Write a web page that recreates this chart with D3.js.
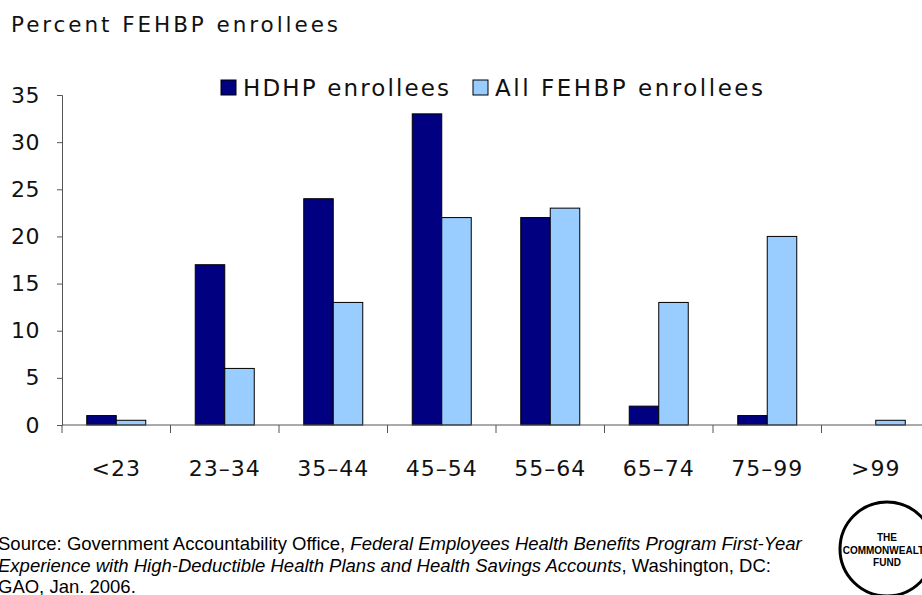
<!DOCTYPE html>
<html>
<head>
<meta charset="utf-8">
<script src="https://cdn.jsdelivr.net/npm/d3@7"></script>
<style>
  html, body { margin: 0; padding: 0; background: #fff; }
  svg { display: block; }
</style>
</head>
<body>
<div id="chart"></div>
<script>
const categories = ['<23', '23\u201334', '35\u201344', '45\u201354', '55\u201364', '65\u201374', '75\u201399', '>99'];
const seriesNames = ['HDHP enrollees', 'All FEHBP enrollees'];
const hdhpValues = [1, 17, 24, 33, 22, 2, 1, 0];
const allValues = [0.5, 6, 13, 22, 23, 13, 20, 0.5];
const yTicks = [0, 5, 10, 15, 20, 25, 30, 35];
const colors = ['#000080', '#99CCFF'];

const width = 922, height = 595;
const labelFont = '"DejaVu Sans", Verdana, sans-serif';
const noteFont = '"Liberation Sans", Arial, sans-serif';

const svg = d3.select('#chart').append('svg')
    .attr('width', width)
    .attr('height', height);

const x0 = d3.scaleBand().domain(categories).range([62, 930]).padding(0);
const bw = x0.bandwidth();
const x1 = d3.scaleBand().domain(seriesNames).range([bw / 2 - 29.5, bw / 2 + 29.5]);
const y = d3.scaleLinear().domain([0, 35]).range([425, 95]);

// title
svg.append('text')
    .attr('x', 11).attr('y', 32)
    .attr('textLength', 327).attr('lengthAdjust', 'spacing')
    .style('font-family', labelFont)
    .style('font-size', '21.5px')
    .attr('fill', '#111')
    .text('Percent FEHBP enrollees');

// bars
const rows = categories.map((c, i) => ({ cat: c, vals: [hdhpValues[i], allValues[i]] }));
const groups = svg.selectAll('.grp').data(rows).enter().append('g')
    .attr('class', 'grp')
    .attr('transform', d => `translate(${x0(d.cat)},0)`);
groups.selectAll('rect')
    .data(d => d.vals.map((v, j) => ({ key: seriesNames[j], v, j })))
    .enter().append('rect')
    .filter(d => d.v > 0)
    .attr('x', d => x1(d.key))
    .attr('width', x1.bandwidth())
    .attr('y', d => y(d.v))
    .attr('height', d => y(0) - y(d.v))
    .attr('fill', d => colors[d.j])
    .attr('stroke', '#000')
    .attr('stroke-width', 1);

// y axis
const yAxis = svg.append('g')
    .attr('transform', 'translate(62,0)')
    .call(d3.axisLeft(y).tickValues(yTicks).tickSize(5).tickPadding(17));
yAxis.select('.domain').attr('stroke', '#555');
yAxis.selectAll('.tick line').attr('stroke', '#555');
yAxis.selectAll('text')
    .style('font-family', labelFont)
    .style('font-size', '22px')
    .style('letter-spacing', '0.5px')
    .attr('fill', '#111');

// x axis
const xAxis = svg.append('g')
    .attr('transform', `translate(0,${y(0)})`);
xAxis.append('line')
    .attr('x1', 62).attr('x2', 930)
    .attr('stroke', '#555');
xAxis.selectAll('.xt').data(categories).enter().append('line')
    .attr('x1', d => x0(d)).attr('x2', d => x0(d))
    .attr('y1', 0).attr('y2', 8)
    .attr('stroke', '#555');
xAxis.selectAll('.xl').data(categories).enter().append('text')
    .attr('x', d => x0(d) + bw / 2)
    .attr('y', 51)
    .attr('text-anchor', 'middle')
    .style('font-family', labelFont)
    .style('font-size', '22px')
    .style('letter-spacing', '1px')
    .attr('fill', '#111')
    .text(d => d);

// legend
const legend = svg.append('g');
const legendX = [221, 473];
const legendW = [206, 268];
seriesNames.forEach((s, i) => {
    legend.append('rect')
        .attr('x', legendX[i]).attr('y', 80)
        .attr('width', 15).attr('height', 15)
        .attr('fill', colors[i])
        .attr('stroke', '#000').attr('stroke-width', 1);
    legend.append('text')
        .attr('x', legendX[i] + 22).attr('y', 96)
        .attr('textLength', legendW[i]).attr('lengthAdjust', 'spacing')
        .style('font-family', labelFont)
        .style('font-size', '23px')
        .attr('fill', '#111')
        .text(s);
});

// source note
const src = svg.append('text')
    .attr('y', 550)
    .style('font-family', noteFont)
    .style('font-size', '18.5px')
    .attr('fill', '#000');
const l1 = src.append('tspan').attr('x', -2);
l1.append('tspan').text('Source: Government Accountability Office, ');
l1.append('tspan').style('font-style', 'italic').text('Federal Employees Health Benefits Program First-Year');
const l2 = src.append('tspan').attr('x', -2).attr('dy', 21.5);
l2.append('tspan').style('font-style', 'italic').text('Experience with High-Deductible Health Plans and Health Savings Accounts');
l2.append('tspan').text(', Washington, DC:');
src.append('tspan').attr('x', -2).attr('dy', 21.5).text('GAO, Jan. 2006.');

// logo
const logo = svg.append('g').attr('transform', 'translate(887,549)');
logo.append('circle').attr('r', 47).attr('fill', '#fff').attr('stroke', '#000').attr('stroke-width', 3);
[['THE', -8], ['COMMONWEALTH', 5], ['FUND', 17]].forEach(([t, dy]) => {
    logo.append('text')
        .attr('y', dy)
        .attr('text-anchor', 'middle')
        .style('font-family', noteFont)
        .style('font-size', '10px')
        .style('font-weight', 'bold')
        .text(t);
});
</script>
</body>
</html>
